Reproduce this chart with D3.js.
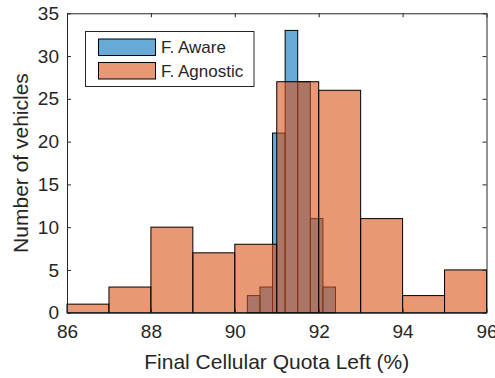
<!DOCTYPE html>
<html>
<head>
<meta charset="utf-8">
<script src="https://cdnjs.cloudflare.com/ajax/libs/d3/7.8.5/d3.min.js"></script>
<style>
  body { margin: 0; background: #fff; }
  text { font-family: Arial, "Liberation Sans", sans-serif; fill: #262626; }
</style>
</head>
<body>
<svg id="chart" width="495" height="378"></svg>
<script>
// histogram bins (edges) and counts
var agnEdges = [86, 87, 88, 89, 90, 91, 92, 93, 94, 95, 96];
var agnCounts = [1, 3, 10, 7, 8, 27, 26, 11, 2, 5];
var awrEdges = [90.3, 90.6, 90.9, 91.2, 91.5, 91.8, 92.1, 92.4];
var awrCounts = [2, 3, 21, 33, 27, 11, 3];
var xTicks = [86, 88, 90, 92, 94, 96];
var yTicks = [0, 5, 10, 15, 20, 25, 30, 35];
var seriesNames = ['F. Aware', 'F. Agnostic'];
var cols = ['#0072BD', '#D95319'];

var svg = d3.select('#chart');
var pl = 67, pr = 486.5, pt = 13.3, pb = 312.7;

var x = d3.scaleLinear().domain([86, 96]).range([pl, pr]);
var y = d3.scaleLinear().domain([0, 35]).range([pb, pt]);

function bins(edges, counts) {
  return counts.map(function(c, i) { return {x0: edges[i], x1: edges[i + 1], n: c}; });
}

var plot = svg.append('g');
[bins(awrEdges, awrCounts), bins(agnEdges, agnCounts)].forEach(function(b, k) {
  plot.selectAll('rect.s' + k).data(b).enter().append('rect')
    .attr('class', 's' + k)
    .attr('x', function(d) { return x(d.x0); })
    .attr('y', function(d) { return y(d.n); })
    .attr('width', function(d) { return x(d.x1) - x(d.x0); })
    .attr('height', function(d) { return y(0) - y(d.n); })
    .attr('fill', cols[k])
    .attr('fill-opacity', 0.6)
    .attr('stroke', '#000')
    .attr('stroke-width', 1);
});

// axes, matlab style box with inward ticks
var ax = svg.append('g');
var xAxis = d3.axisBottom(x).tickValues(xTicks).tickSizeInner(-4).tickSizeOuter(0).tickPadding(12);
var yAxis = d3.axisLeft(y).tickValues(yTicks).tickSizeInner(-4).tickSizeOuter(0).tickPadding(8);
ax.append('g').attr('transform', 'translate(0,' + pb + ')').call(xAxis);
ax.append('g').attr('transform', 'translate(' + pl + ',0)').call(yAxis);
ax.append('g').attr('transform', 'translate(0,' + pt + ')')
  .call(d3.axisTop(x).tickValues(xTicks).tickSizeInner(-4).tickSizeOuter(0).tickFormat(''));
ax.append('g').attr('transform', 'translate(' + pr + ',0)')
  .call(d3.axisRight(y).tickValues(yTicks).tickSizeInner(-4).tickSizeOuter(0).tickFormat(''));
ax.selectAll('path.domain, .tick line').attr('stroke', '#262626');
ax.selectAll('.tick text').style('font-size', '19px').attr('fill', '#262626');

svg.append('text').attr('x', (pl + pr) / 2).attr('y', 369)
  .attr('text-anchor', 'middle').style('font-size', '21px')
  .text('Final Cellular Quota Left (%)');
svg.append('text').attr('transform', 'translate(28,' + ((pt + pb) / 2) + ') rotate(-90)')
  .attr('text-anchor', 'middle').style('font-size', '21px')
  .text('Number of vehicles');

// legend
var lg = svg.append('g');
lg.append('rect').attr('x', 85.5).attr('y', 31.5).attr('width', 168.5).attr('height', 55)
  .attr('fill', '#fff').attr('stroke', '#262626').attr('stroke-width', 1);
seriesNames.forEach(function(s, i) {
  var yy = 39 + i * 23.5;
  lg.append('rect').attr('x', 98.5).attr('y', yy).attr('width', 57).attr('height', 16.5)
    .attr('fill', cols[i]).attr('fill-opacity', 0.6).attr('stroke', '#000');
  lg.append('text').attr('x', 161).attr('y', yy + 14).style('font-size', '17px').text(s);
});
</script>
</body>
</html>
